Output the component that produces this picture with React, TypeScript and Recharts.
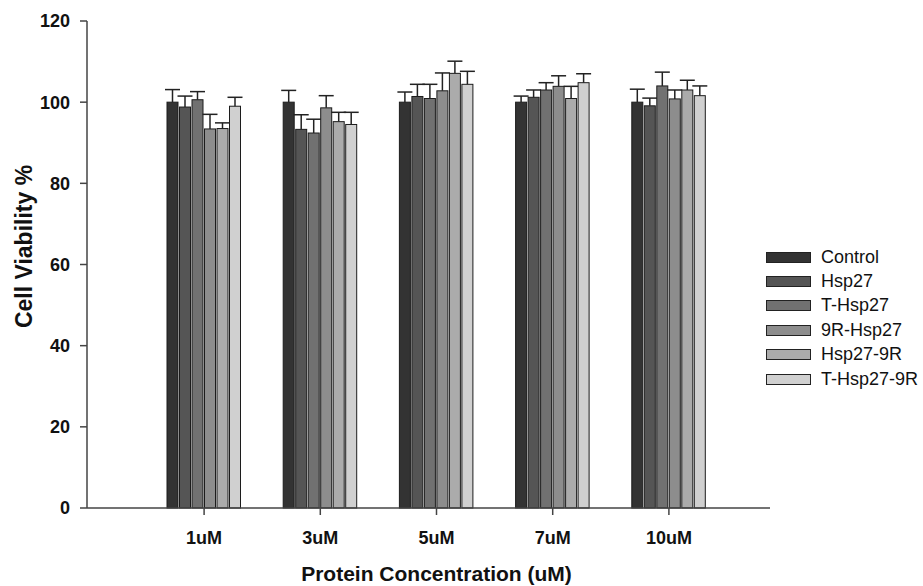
import { BarChart, Bar, XAxis, YAxis } from 'recharts';

const categories = ['1uM', '3uM', '5uM', '7uM', '10uM'];
const groups = ['Control', 'Hsp27', 'T-Hsp27', '9R-Hsp27', 'Hsp27-9R', 'T-Hsp27-9R'];

// mean viability per group, one value per concentration
const control = [100, 100, 100, 100, 100];
const hsp27 = [98.8, 93.3, 101.4, 101.2, 99.1];
const tHsp27 = [100.6, 92.4, 100.9, 103.0, 104.0];
const r9Hsp27 = [93.4, 98.6, 102.8, 103.9, 100.8];
const hsp27R9 = [93.5, 95.2, 107.1, 100.9, 103.0];
const tHsp27R9 = [99.0, 94.5, 104.4, 104.8, 101.6];

// upper error (SD) per group
const controlErr = [3.1, 2.9, 2.5, 1.5, 3.2];
const hsp27Err = [2.7, 3.6, 3.0, 1.8, 1.9];
const tHsp27Err = [2.0, 3.4, 3.5, 1.8, 3.4];
const r9Hsp27Err = [3.6, 3.0, 4.4, 2.6, 2.2];
const hsp27R9Err = [1.4, 2.3, 3.0, 3.0, 2.4];
const tHsp27R9Err = [2.2, 3.0, 3.2, 2.2, 2.4];

const yTicks = [0, 20, 40, 60, 80, 100, 120];

const values = [control, hsp27, tHsp27, r9Hsp27, hsp27R9, tHsp27R9];
const errors = [controlErr, hsp27Err, tHsp27Err, r9Hsp27Err, hsp27R9Err, tHsp27R9Err];
const COLORS = ['#333333', '#555555', '#717171', '#8d8d8d', '#ababab', '#d0d0d0'];

const data = categories.map((name, c) => {
  const row: Record<string, any> = { name };
  values.forEach((v, i) => {
    row[`v${i}`] = v[c];
    row[`e${i}`] = errors[i][c];
  });
  return row;
});

const FONT = '"Liberation Sans", Arial, sans-serif';

function BarWithCap(props: any) {
  const { x, y, width, height, fill, payload, valKey, errKey } = props;
  const v = payload[valKey];
  const e = payload[errKey];
  const unit = height / v;
  const top = y - e * unit;
  const cx = x + width / 2;
  return (
    <g>
      <rect x={x} y={y} width={width} height={height} fill={fill} stroke="#1c1c1c" strokeWidth={1} />
      <line x1={cx} y1={y} x2={cx} y2={top} stroke="#222" strokeWidth={1.5} />
      <line x1={cx - 7.5} y1={top} x2={cx + 7.5} y2={top} stroke="#222" strokeWidth={1.5} />
    </g>
  );
}

export default function App() {
  return (
    <div style={{ position: 'absolute', left: 0, top: 0, width: 923, height: 586, background: '#fff' }}>
      <BarChart
        width={923}
        height={586}
        data={data}
        margin={{ top: 21, right: 153, left: 0, bottom: 0 }}
        barSize={11}
        barGap={1.5}
        style={{ fontFamily: FONT }}
      >
        <XAxis
          dataKey="name"
          height={78}
          padding={{ left: 59, right: 43 }}
          axisLine={{ stroke: '#444', strokeWidth: 1.5 }}
          tickLine={{ stroke: '#444', strokeWidth: 1.5 }}
          tickSize={7}
          tickMargin={16}
          tick={{ fontSize: 18, fontWeight: 'bold', fill: '#111' }}
          label={{
            content: ({ viewBox }: any) => (
              <text
                x={viewBox.x + viewBox.width / 2 + 8}
                y={viewBox.y + 73}
                textAnchor="middle"
                fontSize={21}
                fontWeight="bold"
                fill="#111"
                fontFamily={FONT}
              >
                Protein Concentration (uM)
              </text>
            ),
          }}
        />
        <YAxis
          width={87}
          domain={[0, 120]}
          ticks={yTicks}
          interval={0}
          axisLine={{ stroke: '#444', strokeWidth: 1.5 }}
          tickLine={{ stroke: '#444', strokeWidth: 1.5 }}
          tickSize={7}
          tickMargin={10}
          tick={{ fontSize: 18, fontWeight: 'bold', fill: '#111' }}
          label={{
            content: ({ viewBox }: any) => {
              const lx = viewBox.x + 24;
              const ly = viewBox.y + viewBox.height / 2 - 18;
              return (
                <text
                  x={lx}
                  y={ly}
                  transform={`rotate(-90, ${lx}, ${ly})`}
                  textAnchor="middle"
                  dominantBaseline="central"
                  fontSize={23}
                  fontWeight="bold"
                  fill="#111"
                  fontFamily={FONT}
                >
                  Cell Viability %
                </text>
              );
            },
          }}
        />
        {groups.map((g, i) => (
          <Bar
            key={g}
            dataKey={`v${i}`}
            name={g}
            fill={COLORS[i]}
            isAnimationActive={false}
            shape={(p: any) => <BarWithCap {...p} valKey={`v${i}`} errKey={`e${i}`} />}
          />
        ))}
      </BarChart>
      <div style={{ position: 'absolute', left: 766, top: 245, fontFamily: FONT }}>
        {groups.map((g, i) => (
          <div key={g} style={{ display: 'flex', alignItems: 'center', height: 24.4 }}>
            <span
              style={{
                display: 'inline-block',
                width: 43,
                height: 9,
                background: COLORS[i],
                border: '1px solid #222',
                marginRight: 10,
              }}
            ></span>
            <span style={{ fontSize: 18, color: '#111', whiteSpace: 'nowrap' }}>{g}</span>
          </div>
        ))}
      </div>
    </div>
  );
}
